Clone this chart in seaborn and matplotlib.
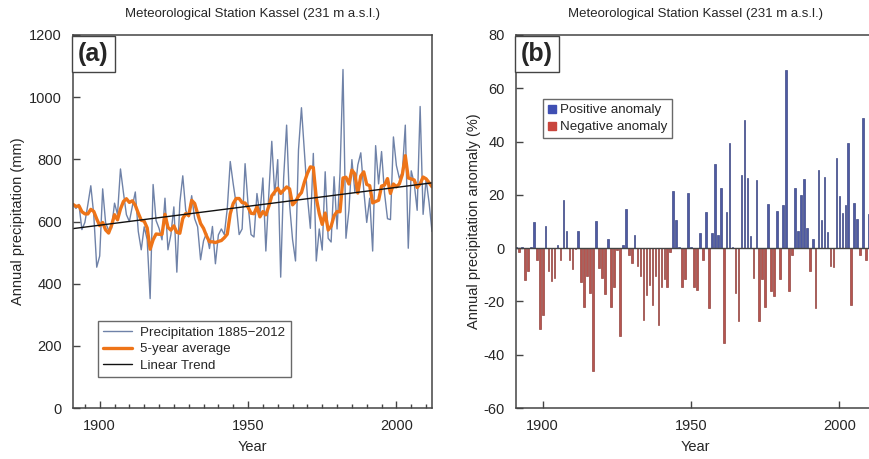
import numpy as np
import pandas as pd
import matplotlib
matplotlib.use('Agg')
import matplotlib.pyplot as plt
from matplotlib.lines import Line2D
from matplotlib.ticker import MultipleLocator
import seaborn as sns

# Annual precipitation at Kassel (mm), 1891-2012
years = list(range(1891, 2013))
precip_mm = [
    655, 642, 655, 574, 597, 654, 715, 622, 453, 489,   # 1891-1900
    705, 595, 572, 578, 659, 623, 769, 693, 622, 600,   # 1901-1910
    649, 695, 568, 509, 583, 542, 352, 719, 603, 578,   # 1911-1920
    541, 675, 509, 558, 647, 437, 660, 747, 636, 615,   # 1921-1930
    683, 609, 583, 477, 538, 562, 513, 584, 464, 557,   # 1931-1940
    576, 558, 642, 793, 721, 656, 558, 576, 786, 655,   # 1941-1950
    558, 550, 690, 622, 740, 505, 689, 858, 685, 799,   # 1951-1960
    421, 741, 910, 654, 542, 473, 830, 966, 823, 682,   # 1961-1970
    578, 819, 473, 576, 508, 760, 546, 534, 744, 576,   # 1971-1980
    757, 1089, 546, 636, 799, 695, 782, 821, 701, 597,  # 1981-1990
    675, 505, 844, 721, 825, 691, 609, 606, 872, 780,   # 1991-2000
    739, 758, 910, 514, 763, 723, 636, 970, 623, 735,   # 2001-2010
    662, 568,                                           # 2011-2012
]
ref_mean_mm = 652  # long-term mean used for the anomaly

station_title = 'Meteorological Station Kassel (231 m a.s.l.)'
legend_a = ['Precipitation 1885\u22122012', '5-year average', 'Linear Trend']
legend_b = ['Positive anomaly', 'Negative anomaly']

# derived series
df = pd.DataFrame({'year': years, 'precip': precip_mm})
df['avg5'] = df['precip'].rolling(5, min_periods=1).mean()
coef = np.polyfit(df['year'], df['precip'], 1)
df['trend'] = np.polyval(coef, df['year'])
df['anomaly'] = (df['precip'] / ref_mean_mm - 1) * 100
df['sign'] = np.where(df['anomaly'] >= 0, legend_b[0], legend_b[1])

sns.set_style('ticks')
plt.rcParams['font.family'] = ['Liberation Sans', 'DejaVu Sans']
plt.rcParams['axes.unicode_minus'] = False

c_line = '#6f82a8'
c_avg = '#ee7418'
c_pos = '#3f4fb3'
c_neg = '#c9453d'
c_spine = '#444444'

fig = plt.figure(figsize=(8.7, 4.59), dpi=100)
ax1 = fig.add_axes([73 / 870, 51 / 459, 359 / 870, 373 / 459])
ax2 = fig.add_axes([516 / 870, 51 / 459, 359 / 870, 373 / 459])

# panel (a): precipitation series
sns.lineplot(data=df, x='year', y='precip', color=c_line, lw=1.0, ax=ax1)
sns.lineplot(data=df, x='year', y='avg5', color=c_avg, lw=2.4, ax=ax1)
sns.lineplot(data=df, x='year', y='trend', color='#111111', lw=1.0, ax=ax1)
ax1.set_xlim(1891, 2012)
ax1.set_ylim(0, 1200)
ax1.yaxis.set_major_locator(MultipleLocator(200))
ax1.xaxis.set_major_locator(MultipleLocator(50))
ax1.xaxis.set_minor_locator(MultipleLocator(5))
ax1.set_ylabel('Annual precipitation (mm)', fontsize=10.5, labelpad=3)

handles_a = [Line2D([], [], color=c_line, lw=1.0),
             Line2D([], [], color=c_avg, lw=2.4),
             Line2D([], [], color='#111111', lw=1.0)]
leg = ax1.legend(handles_a, legend_a, loc='lower left', bbox_to_anchor=(0.05, 0.065),
                 fontsize=9.6, frameon=True, fancybox=False, borderpad=0.4,
                 labelspacing=0.3, handlelength=2.2, handletextpad=0.6)
leg.get_frame().set_edgecolor(c_spine)
leg.get_frame().set_linewidth(1.0)

# panel (b): anomaly bars
sns.barplot(data=df, x='year', y='anomaly', hue='sign', native_scale=True,
            palette={legend_b[0]: c_pos, legend_b[1]: c_neg}, dodge=False,
            width=0.55, orient='x', legend=False, ax=ax2, linewidth=0.5)
for p in ax2.patches:
    fc = p.get_facecolor()
    p.set_edgecolor(tuple(v * 0.8 for v in fc[:3]))
ax2.axhline(0, color=c_spine, lw=1.0)
ax2.set_xlim(1891, 2012)
ax2.set_ylim(-60, 80)
ax2.yaxis.set_major_locator(MultipleLocator(20))
ax2.xaxis.set_major_locator(MultipleLocator(50))
ax2.set_ylabel('Annual precipitation anomaly (%)', fontsize=10.5, labelpad=2)

handles_b = [Line2D([], [], ls='', marker='s', ms=5.5, color=c_pos),
             Line2D([], [], ls='', marker='s', ms=5.5, color=c_neg)]
leg2 = ax2.legend(handles_b, legend_b, loc='upper left', bbox_to_anchor=(0.058, 0.845),
                  fontsize=9.6, frameon=True, fancybox=False, borderpad=0.35,
                  labelspacing=0.35, handlelength=0.6, handletextpad=0.3)
leg2.get_frame().set_edgecolor(c_spine)
leg2.get_frame().set_linewidth(1.0)

for ax, tag in [(ax1, '(a)'), (ax2, '(b)')]:
    ax.set_title(station_title, fontsize=9.5, pad=13)
    ax.set_xlabel('Year', fontsize=10.5, labelpad=5)
    ax.tick_params(which='both', direction='in', labelsize=10.5, pad=8,
                   color=c_spine, width=1.0)
    ax.tick_params(which='major', length=5)
    ax.tick_params(which='minor', length=3)
    for s in ax.spines.values():
        s.set_visible(True)
        s.set_color(c_spine)
        s.set_linewidth(1.1)
    ax.text(0.014, 0.982, tag, transform=ax.transAxes, ha='left', va='top',
            fontsize=18, fontweight='bold',
            bbox=dict(boxstyle='square,pad=0.24', fc='white', ec=c_spine, lw=1.0))

fig.savefig('out.png', dpi=100)
